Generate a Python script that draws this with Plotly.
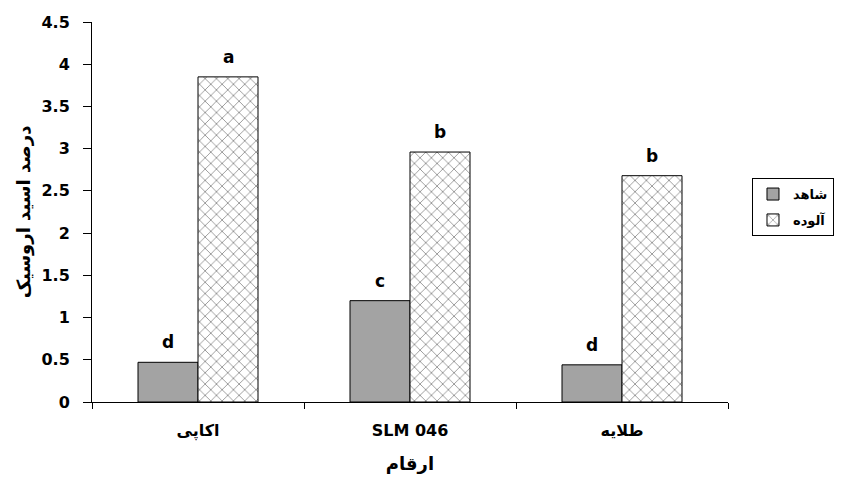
import plotly.graph_objects as go

categories = ["اکاپی", "SLM 046", "طلایه"]
control_vals = [0.47, 1.20, 0.44]
infected_vals = [3.85, 2.96, 2.68]
control_letters = ["d", "c", "d"]
infected_letters = ["a", "b", "b"]
series_names = ["شاهد", "آلوده"]

FONT = "DejaVu Sans, Liberation Sans, Arial, sans-serif"

fig = go.Figure()
fig.add_trace(go.Bar(
    x=categories, y=control_vals, name=series_names[0], legendgroup="g1",
    marker=dict(color="#a3a3a3", line=dict(color="black", width=1)),
))
fig.add_trace(go.Bar(
    x=categories, y=infected_vals, name=series_names[1], legendgroup="g2",
    marker=dict(color="white", line=dict(color="black", width=1),
                pattern=dict(shape="x", fgcolor="black", bgcolor="white",
                             size=8, solidity=0.18)),
))

annotations = []
for cat, v, lab in zip(categories, control_vals, control_letters):
    annotations.append(dict(x=cat, y=v, text=lab, showarrow=False, xshift=-30,
                            yanchor="bottom", yshift=8,
                            font=dict(family=FONT, size=17, color="black", weight="bold")))
for cat, v, lab in zip(categories, infected_vals, infected_letters):
    annotations.append(dict(x=cat, y=v, text=lab, showarrow=False, xshift=30,
                            yanchor="bottom", yshift=8,
                            font=dict(family=FONT, size=17, color="black", weight="bold")))

fig.update_layout(
    width=835, height=466,
    margin=dict(l=84, r=115, t=14, b=72),
    paper_bgcolor="white", plot_bgcolor="white",
    barmode="group", bargap=0.434, bargroupgap=0,
    font=dict(family=FONT, color="black"),
    annotations=annotations,
    legend=dict(xref="container", yref="container",
                x=0.891, y=0.635, xanchor="left", yanchor="top",
                bordercolor="black", borderwidth=1, bgcolor="white",
                font=dict(family=FONT, size=13, color="black", weight="bold"),
                tracegroupgap=6, itemwidth=30),
    xaxis=dict(
        automargin=False,
        showline=True, linecolor="black", linewidth=1,
        ticks="outside", tickson="boundaries", ticklen=6, tickcolor="black",
        ticklabelstandoff=14,
        tickfont=dict(family=FONT, size=16, color="black", weight="bold"),
        title=dict(text="ارقام", standoff=20,
                   font=dict(family=FONT, size=18, color="black", weight="bold")),
        showgrid=False,
    ),
    yaxis=dict(
        automargin=False,
        range=[0, 4.5], dtick=0.5, tick0=0,
        showline=True, linecolor="black", linewidth=1,
        ticks="outside", ticklen=8, tickcolor="black",
        ticklabelstandoff=10,
        tickfont=dict(family=FONT, size=16, color="black", weight="bold"),
        title=dict(text="درصد اسید اروسیک", standoff=6,
                   font=dict(family=FONT, size=18, color="black", weight="bold")),
        showgrid=False, zeroline=False,
    ),
)

fig.write_html("out.html")
